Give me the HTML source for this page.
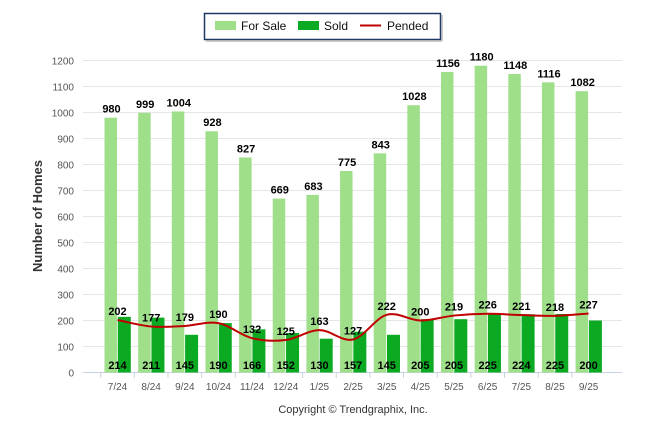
<!DOCTYPE html>
<html><head><meta charset="utf-8"><style>
body{margin:0;background:#fff;}
svg text{font-family:"Liberation Sans",Arial,sans-serif;}
</style></head><body>
<svg id="c" width="646" height="434" xmlns="http://www.w3.org/2000/svg">
<rect x="204.5" y="13.5" width="236" height="26" fill="#fff" stroke="#1f3864" stroke-width="1.5"/>
<line x1="206" y1="41" x2="442" y2="41" stroke="#bbb" stroke-width="1.5"/>
<line x1="442" y1="15" x2="442" y2="41" stroke="#bbb" stroke-width="1.5"/>
<rect x="215" y="21" width="21" height="9" fill="#a0df8a"/>
<text x="241" y="30" font-size="12" fill="#111">For Sale</text>
<rect x="298" y="21" width="21" height="9" fill="#0caa22"/>
<text x="324" y="30" font-size="12" fill="#111">Sold</text>
<line x1="360" y1="25.5" x2="381" y2="25.5" stroke="#c00000" stroke-width="2"/>
<text x="387" y="30" font-size="12" fill="#111">Pended</text>
<text transform="translate(42,216) rotate(-90)" text-anchor="middle" font-size="13" font-weight="bold" fill="#333">Number of Homes</text>
<text x="353" y="413" text-anchor="middle" font-size="11" fill="#333">Copyright © Trendgraphix, Inc.</text>
<g id="grid"></g><g id="bars"></g><g id="line"></g><g id="labels"></g>
</svg>
<script>
const categories=["7/24","8/24","9/24","10/24","11/24","12/24","1/25","2/25","3/25","4/25","5/25","6/25","7/25","8/25","9/25"];
const forSale=[980,999,1004,928,827,669,683,775,843,1028,1156,1180,1148,1116,1082];
const sold=[214,211,145,190,166,152,130,157,145,205,205,225,224,225,200];
const pended=[202,177,179,190,132,125,163,127,222,200,219,226,221,218,227];
const yTicks=[0,100,200,300,400,500,600,700,800,900,1000,1100,1200];
const NS="http://www.w3.org/2000/svg";
const y=v=>372.5-v*0.26;
const x=i=>117.5+i*33.65;
function mk(t,a,p){const e=document.createElementNS(NS,t);for(const k in a)e.setAttribute(k,a[k]);p.appendChild(e);return e;}
const grid=document.getElementById('grid'),bars=document.getElementById('bars'),line=document.getElementById('line'),labels=document.getElementById('labels');
yTicks.forEach(v=>{
  const l=mk('line',{x1:83,x2:622,y1:y(v),y2:y(v),stroke:v===0?'#c9d3e0':'#e6e6e6','stroke-width':1},grid);
  
  
  const t=mk('text',{x:74,y:y(v)+4,'text-anchor':'end','font-size':10,fill:'#555'},grid);
  t.textContent=v;
  
  
});
categories.forEach((c,i)=>{
  const tk=mk('line',{x1:x(i)-16.8,x2:x(i)-16.8,y1:373,y2:378,stroke:'#c9d3e0'},grid);
  
  
  const t=mk('text',{x:x(i),y:390,'text-anchor':'middle','font-size':10,fill:'#555'},grid);
  t.textContent=c;
  
  
  const b1=mk('rect',{x:x(i)-13,y:y(forSale[i]),width:12.5,height:y(0)-y(forSale[i]),fill:'#a0df8a'},bars);
  
  
  const b2=mk('rect',{x:x(i)+0.3,y:y(sold[i]),width:13,height:y(0)-y(sold[i]),fill:'#0caa22'},bars);
  
  
  const l1=mk('text',{x:x(i)-6,y:y(forSale[i])-5,'text-anchor':'middle','font-size':11,'font-weight':'bold',fill:'#000'},labels);
  l1.textContent=forSale[i];
  
  
  const l2=mk('text',{x:x(i),y:369,'text-anchor':'middle','font-size':11,'font-weight':'bold',fill:'#000'},labels);
  l2.textContent=sold[i];
  
  
  const l3=mk('text',{x:x(i),y:y(pended[i])-5,'text-anchor':'middle','font-size':11,'font-weight':'bold',fill:'#000'},labels);
  l3.textContent=pended[i];
  
  
});
// smooth line (Catmull-Rom)
const pts=pended.map((v,i)=>[x(i),y(v)]);
let d='M'+pts[0][0]+','+pts[0][1];
for(let i=0;i<pts.length-1;i++){
  const p0=pts[Math.max(0,i-1)],p1=pts[i],p2=pts[i+1],p3=pts[Math.min(pts.length-1,i+2)];
  const c1=[p1[0]+(p2[0]-p0[0])/6,p1[1]+(p2[1]-p0[1])/6],c2=[p2[0]-(p3[0]-p1[0])/6,p2[1]-(p3[1]-p1[1])/6];
  d+=` C${c1[0]},${c1[1]} ${c2[0]},${c2[1]} ${p2[0]},${p2[1]}`;
}
const pl=mk('path',{d:d,fill:'none',stroke:'#c00000','stroke-width':2},line);


</script>
</body></html>
